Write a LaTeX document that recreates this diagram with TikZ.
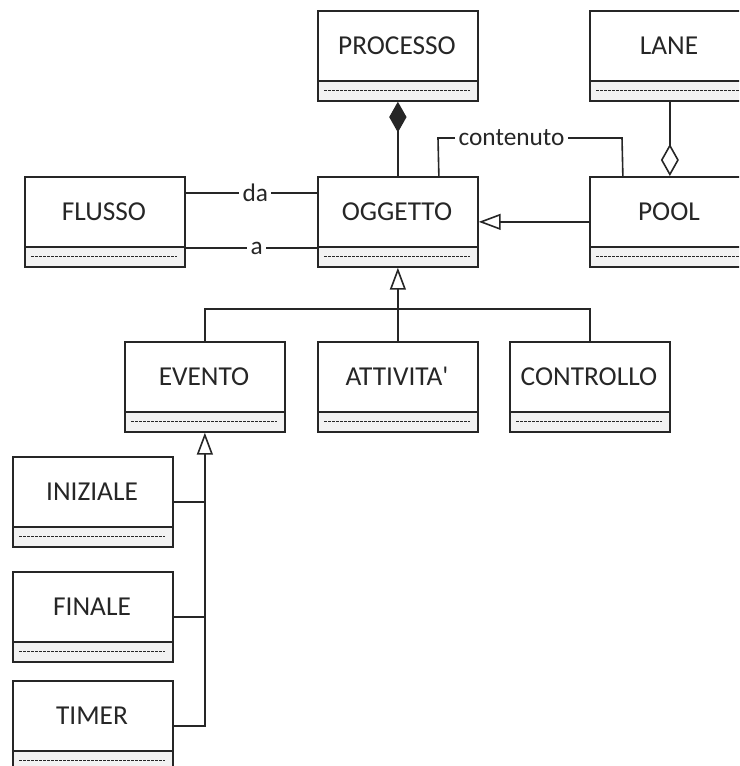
\documentclass[tikz,border=0pt]{standalone}
\usepackage{fontspec}
\setmainfont{Carlito}
\usetikzlibrary{arrows.meta,calc}
\definecolor{ink}{HTML}{262626}
\definecolor{compgray}{HTML}{F2F2F2}
\tikzset{
  classbox/.style={draw=ink, line width=1.3pt, minimum width=120pt, minimum height=67.5pt, inner sep=0pt, anchor=north west},
  classname/.style={text=ink, font=\fontsize{20.5}{24}\selectfont, inner sep=0pt},
  divider/.style={draw=ink, line width=1.3pt},
  compfill/.style={fill=compgray},
  dotrule/.style={draw=ink, line width=0.7pt, dash pattern=on 2pt off 1pt},
  conn/.style={draw=ink, line width=1.2pt},
  lbl/.style={fill=white, text=ink, font=\fontsize{19}{22}\selectfont, inner sep=2.5pt},
  gen/.tip={Triangle[open, length=16.5pt, width=12pt]},
  comp/.tip={Diamond[length=23pt, width=13pt, fill=ink]},
  agg/.tip={Diamond[open, length=24pt, width=13.5pt]},
}
% class box: name, left x, top y, title
\newcommand\umlbox[4]{%
  \path[compfill] (#2,#3+71) rectangle (#2+160,#3+90);
  \draw[dotrule] (#2+7,#3+80.5) -- (#2+153,#3+80.5);
  \draw[divider] (#2,#3+71) -- (#2+160,#3+71);
  \node[classbox] (#1) at (#2,#3) {};
  \node[classname] (#1-title) at (#2+80,#3+35.5) {#4};
}
\begin{document}
\begin{tikzpicture}[x=0.75pt,y=-0.75pt]
\useasboundingbox (0,0) rectangle (739,766);
\clip (0,0) rectangle (739,766);

\umlbox{PROCESSO}{317}{10}{PROCESSO}
\umlbox{LANE}{589}{10}{LANE}
\umlbox{FLUSSO}{24}{176}{FLUSSO}
\umlbox{OGGETTO}{317}{176}{OGGETTO}
\umlbox{POOL}{589}{176}{POOL}
\umlbox{EVENTO}{124}{341}{EVENTO}
\umlbox{ATTIVITA}{317}{341}{ATTIVITA\textquotesingle}
\umlbox{CONTROLLO}{509}{341}{CONTROLLO}
\umlbox{INIZIALE}{12}{456}{INIZIALE}
\umlbox{FINALE}{12}{571}{FINALE}
\umlbox{TIMER}{12}{680}{TIMER}

% composition and aggregation
\draw[conn, {comp}-] (PROCESSO.south) -- (OGGETTO.north);
\draw[conn, -{agg}] (LANE.south) -- (POOL.north);

% POOL specialises OGGETTO
\draw[conn, -{gen}] (POOL.west) -- (OGGETTO.east);

% contenuto association
\coordinate (ct1) at (438,138);
\coordinate (ct2) at (622,138);
\draw[conn] ($(OGGETTO.north)+(41,0)$) -- (ct1)
  -- node[lbl, pos=0.4] (lcont) {contenuto} (ct2)
  -- ($(POOL.north)+(-47,0)$);

% da / a associations
\draw[conn] ($(FLUSSO.north east)+(0,17)$)
  -- node[lbl, pos=0.53] (lda) {da} ($(OGGETTO.north west)+(0,17)$);
\draw[conn] ($(FLUSSO.north east)+(0,72)$)
  -- node[lbl, pos=0.54] (la) {a} ($(OGGETTO.north west)+(0,72)$);

% subclasses of OGGETTO
\coordinate (bus) at (397,309);
\draw[conn] (EVENTO.north) |- (bus) -| (CONTROLLO.north);
\draw[conn, -{gen}] (ATTIVITA.north) -- (OGGETTO.south);

% subclasses of EVENTO
\draw[conn, -{gen}] (TIMER.east) -| (EVENTO.south);
\draw[conn] (INIZIALE.east) -- (INIZIALE.east -| EVENTO.south);
\draw[conn] (FINALE.east) -- (FINALE.east -| EVENTO.south);
\end{tikzpicture}
\end{document}
